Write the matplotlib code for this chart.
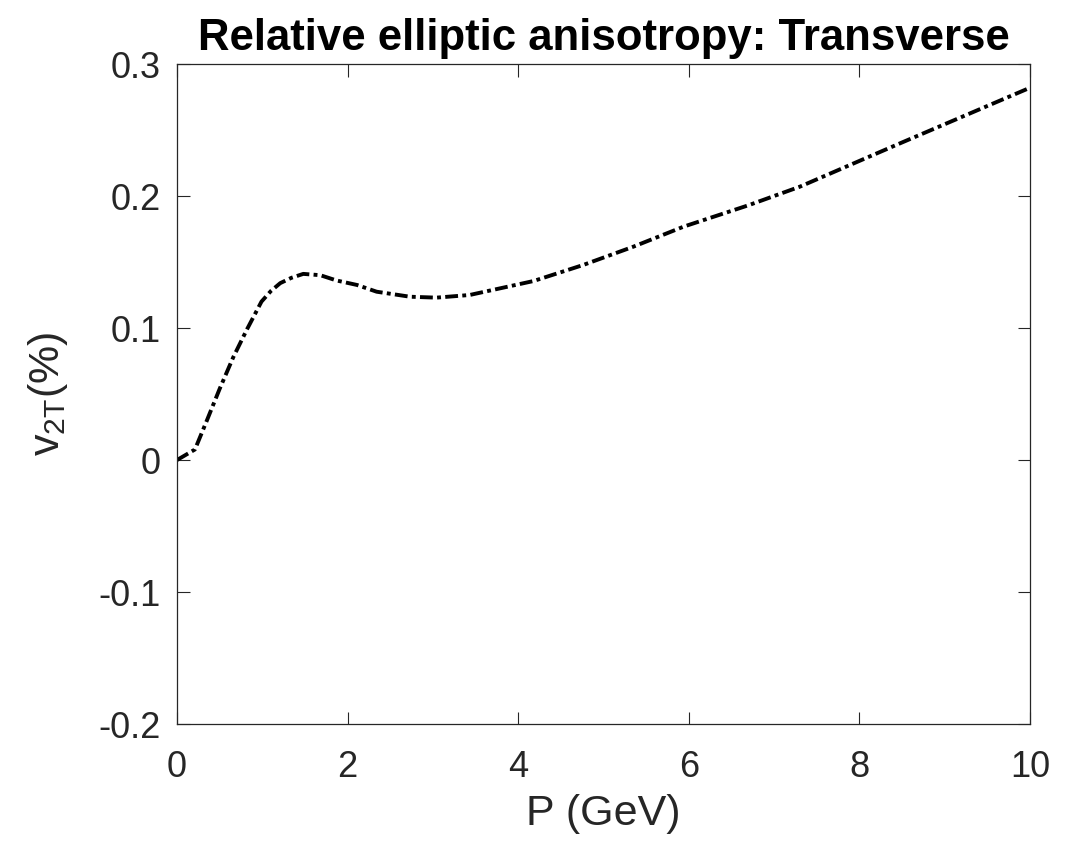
import numpy as np
import matplotlib
matplotlib.use("Agg")
from matplotlib import pyplot as plt

# momentum (GeV) and transverse elliptic anisotropy v2T (%)
p_gev = [0.0, 0.21, 0.35, 0.50, 0.66, 0.82, 0.99, 1.10, 1.21, 1.34,
         1.48, 1.68, 1.87, 2.11, 2.34, 2.73, 3.04, 3.43, 4.18, 4.76,
         5.35, 5.94, 6.70, 7.30, 8.48, 10.0]
v2t = [0.0, 0.008, 0.030, 0.054, 0.078, 0.099, 0.120, 0.128, 0.134, 0.138,
       0.141, 0.140, 0.136, 0.1326, 0.1275, 0.1237, 0.123, 0.125, 0.1356, 0.1477,
       0.1616, 0.1768, 0.193, 0.207, 0.240, 0.282]

xticks = [0, 2, 4, 6, 8, 10]
yticks = [-0.2, -0.1, 0, 0.1, 0.2, 0.3]
ytick_labels = ["-0.2", "-0.1", "0", "0.1", "0.2", "0.3"]

plt.rcParams["font.family"] = ["Liberation Sans", "DejaVu Sans"]
plt.rcParams["mathtext.fontset"] = "custom"
plt.rcParams["mathtext.rm"] = "Liberation Sans"
axis_color = "#262626"

fig = plt.figure(figsize=(10.75, 8.41), dpi=100)
ax = fig.add_axes([0.1647, 0.1391, 0.7934, 0.7848])

ax.plot(p_gev, v2t, color="black", lw=2.8, linestyle=(0, (3.3, 1.1, 1.0, 1.1)),
        dash_capstyle="butt", solid_joinstyle="round")

ax.set_xlim(0, 10)
ax.set_ylim(-0.2, 0.3)
ax.set_xticks(xticks)
ax.set_yticks(yticks)
ax.set_yticklabels(ytick_labels)
ax.tick_params(direction="in", length=9, width=0.8, colors=axis_color,
               labelsize=26, top=True, right=True)
ax.tick_params(axis="x", pad=19)
ax.tick_params(axis="y", pad=12)
for s in ax.spines.values():
    s.set_color(axis_color)
    s.set_linewidth(0.9)

ax.set_xlabel("P (GeV)", fontsize=31, color=axis_color, labelpad=6)
ax.set_ylabel(r"v$_{\mathregular{2T}}$(%)", fontsize=31, color=axis_color, labelpad=20)
ax.set_title("Relative elliptic anisotropy: Transverse", fontsize=31.5,
             fontweight="bold", pad=10)

fig.savefig("out.png", dpi=100)
